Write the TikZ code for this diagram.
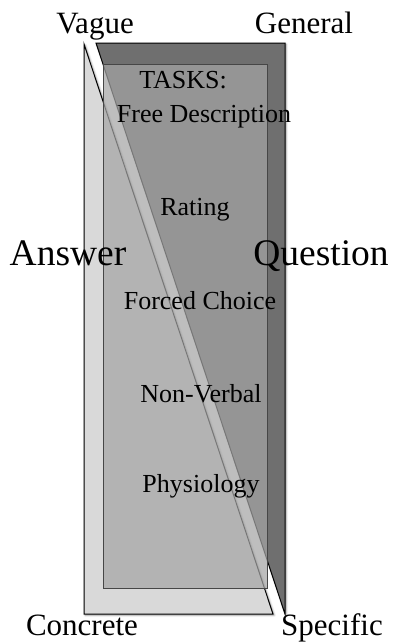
\documentclass[tikz,border=0pt]{standalone}
\usepackage{fontspec}
\setmainfont{Liberation Serif}
\usetikzlibrary{shadows.blur}
\definecolor{lightfill}{RGB}{217,217,217}
\definecolor{darkfill}{RGB}{111,111,111}
\definecolor{taskfill}{RGB}{165,165,165}
\definecolor{taskline}{RGB}{70,70,70}
\tikzset{
  shadowed/.style={blur shadow={shadow xshift=1.2pt, shadow yshift=-1.2pt, shadow blur radius=2pt, shadow blur steps=6, shadow opacity=40}},
  tri/.style={draw=black, line width=1pt, line join=miter, shadowed},
  taskbox/.style={fill=taskfill, fill opacity=0.72, draw=taskline, draw opacity=1, line width=0.9pt},
  axislabel/.style={anchor=base, font=\fontsize{31}{36}\selectfont, inner sep=0pt},
  sidelabel/.style={anchor=base, font=\fontsize{37.5}{44}\selectfont, inner sep=0pt},
  tasklabel/.style={anchor=base, font=\fontsize{26}{30}\selectfont, inner sep=0pt}
}
\begin{document}
\begin{tikzpicture}[x=1pt,y=-1pt]
\useasboundingbox (0,0) rectangle (392,643);
% Answer triangle (light)
\fill[lightfill, tri] (84,44) -- (84,614) -- (273,614) -- cycle;
% Question triangle (dark)
\fill[darkfill, tri] (96,43) -- (285,43) -- (285,614) -- cycle;
% task box
\draw[taskbox] (103,64) rectangle (267,588);
% labels
\node[axislabel] (vague) at (95,33) {Vague};
\node[axislabel] (general) at (304,33) {General};
\node[axislabel] (concrete) at (82,635) {Concrete};
\node[axislabel] (specific) at (332,635) {Specific};
\node[sidelabel] (answer) at (68,265) {Answer};
\node[sidelabel] (question) at (321,265) {Question};
\node[tasklabel] (tasks) at (183,88) {TASKS:};
\node[tasklabel] (free) at (204,122) {Free Description};
\node[tasklabel] (rating) at (195,215) {Rating};
\node[tasklabel] (forced) at (200,309) {Forced Choice};
\node[tasklabel] (nonverbal) at (201,402) {Non-Verbal};
\node[tasklabel] (physio) at (201,492) {Physiology};
\end{tikzpicture}
\end{document}
